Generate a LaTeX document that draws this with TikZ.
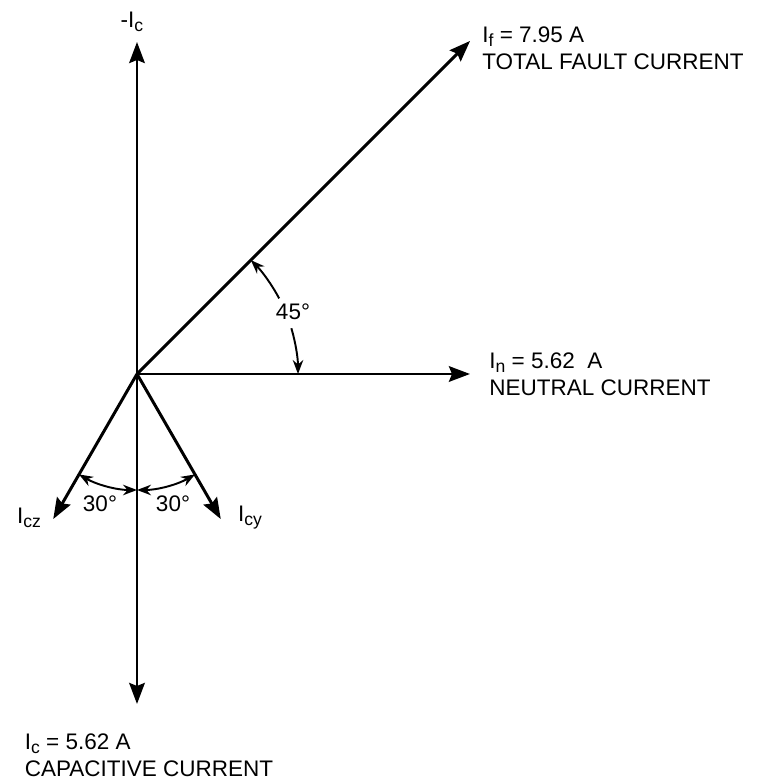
\documentclass[tikz,border=0pt]{standalone}
\usepackage{fontspec}
\setmainfont{Liberation Sans}
\usepackage{tikz}
\usetikzlibrary{arrows.meta,positioning}
\newcommand{\sub}[1]{\raisebox{-2.4pt}{\fontsize{10}{10}\selectfont #1}}

\begin{document}
\begin{tikzpicture}[>=Stealth,
  vec/.style={line width=1.7pt,-{Stealth[length=4.2mm,width=3.1mm,inset=0.6mm]}},
  dimarc/.style={line width=1.1pt},
  lbl/.style={font=\fontsize{12.8}{15.6}\selectfont,inner sep=0pt,align=left}]
\useasboundingbox (-2.74,-8.12) rectangle (12.66,7.48);
% phasors
\coordinate (O) at (0,0);
\coordinate (up) at (0,6.64);
\coordinate (down) at (0,-6.6);
\coordinate (n) at (6.66,0);
\coordinate (f) at (45:9.42);
\coordinate (cz) at (-120:3.35);
\coordinate (cy) at (-60:3.35);
\draw[vec](O)--(up);
\draw[vec](O)--(down);
\draw[vec](O)--(n);
\draw[vec](O)--(f);
\draw[vec](O)--(cz);
\draw[vec](O)--(cy);
% labels
\node[lbl,anchor=south] (mic) at ([xshift=-1mm,yshift=2mm]up) {-I\sub{c}};
\node[lbl,anchor=north west] (flbl) at ([xshift=2.4mm,yshift=2.9mm]f) {I\sub{f} = 7.95 A\\TOTAL FAULT CURRENT};
\node[lbl,anchor=north west] (nlbl) at ([xshift=3.8mm,yshift=4.3mm]n) {I\sub{n} = 5.62 \ A\\NEUTRAL CURRENT};
\node[lbl,anchor=north west] (clbl) at ([xshift=-22.5mm,yshift=-5.8mm]down) {I\sub{c} = 5.62 A\\CAPACITIVE CURRENT};
\node[lbl,anchor=base east] (czlbl) at ([xshift=-2.4mm,yshift=-0.8mm]cz) {I\sub{cz}};
\node[lbl,anchor=base west] (cylbl) at ([xshift=3.4mm,yshift=-0.4mm]cy) {I\sub{cy}};
% angles
\draw[dimarc,<->](-90:2.32) arc[start angle=-90,end angle=-120,radius=2.32];
\draw[dimarc,<->](-90:2.32) arc[start angle=-90,end angle=-60,radius=2.32];
\draw[dimarc,<-](45:3.22) arc[start angle=45,end angle=28,radius=3.22];
\draw[dimarc,->](16.5:3.22) arc[start angle=16.5,end angle=0,radius=3.22];
\node[lbl] (a30z) at (-0.74,-2.6) {30°};
\node[lbl] (a30y) at (0.72,-2.6) {30°};
\node[lbl] (a45) at (3.12,1.24) {45°};
\end{tikzpicture}
\end{document}
